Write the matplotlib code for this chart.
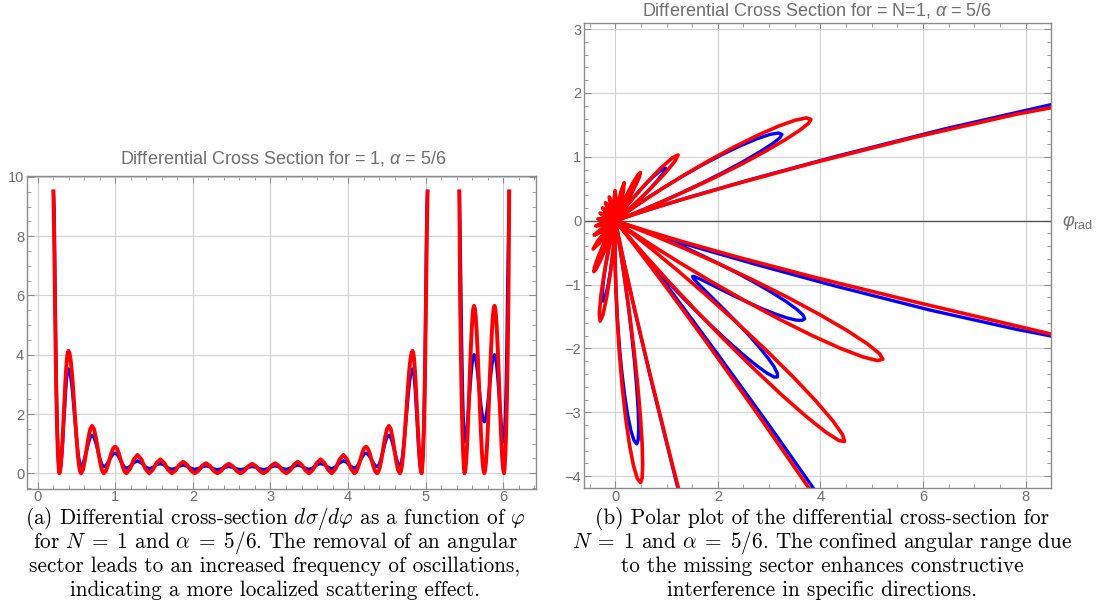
import numpy as np
import matplotlib
matplotlib.use("Agg")
import matplotlib.pyplot as plt
from matplotlib.ticker import MultipleLocator

plt.rcParams['font.family'] = ['Liberation Sans', 'DejaVu Sans']
plt.rcParams['mathtext.fontset'] = 'custom'
plt.rcParams['mathtext.rm'] = 'Liberation Sans'
plt.rcParams['mathtext.it'] = 'Liberation Sans:italic'
plt.rcParams['mathtext.bf'] = 'Liberation Sans:bold'

# angle values (rad); first branch 0.2 .. 5.03
phi_a = [0.200, 0.210, 0.220, 0.230, 0.240, 0.250, 0.260, 0.270,
         0.277, 0.287, 0.2965, 0.306, 0.316, 0.326, 0.3355, 0.345, 0.355, 0.365, 0.3745, 0.384,
         0.394, 0.4076, 0.4212, 0.4348, 0.4483, 0.4619, 0.4755, 0.4891, 0.5027, 0.5163, 0.5298, 0.5434,
         0.557, 0.581, 0.604, 0.628, 0.652, 0.675, 0.699, 0.724, 0.749, 0.775, 0.800, 0.825,
         0.850, 0.874, 0.898, 0.922, 0.947, 0.971, 0.995, 1.020, 1.044, 1.069, 1.094, 1.118,
         1.143, 1.190, 1.238, 1.285, 1.335, 1.385,
         1.435, 1.483, 1.532, 1.580, 1.629, 1.679,
         1.728, 1.776, 1.825, 1.873, 1.923, 1.972,
         2.022, 2.071, 2.119, 2.168, 2.217, 2.266,
         2.315, 2.364, 2.413, 2.462, 2.512, 2.563,
         2.613,
         2.663, 2.714, 2.764, 2.813, 2.862, 2.911,
         2.960, 3.009, 3.058, 3.107, 3.155, 3.204,
         3.254, 3.303, 3.353, 3.401, 3.450, 3.498,
         3.547, 3.597, 3.646, 3.694, 3.743, 3.791,
         3.841, 3.891, 3.941, 3.988, 4.036, 4.083,
         4.108, 4.132, 4.157, 4.182, 4.206, 4.231, 4.255, 4.279, 4.303, 4.328, 4.352, 4.376,
         4.401, 4.426, 4.451, 4.477, 4.502, 4.527, 4.551, 4.574, 4.598, 4.622, 4.645, 4.669,
         4.6826, 4.6962, 4.7097, 4.7233, 4.7369, 4.7505, 4.7641, 4.7777, 4.7912, 4.8048, 4.8184,
         4.832, 4.8418, 4.8515, 4.8613, 4.871, 4.8808, 4.8905, 4.9003, 4.910, 4.9198, 4.9295, 4.9393,
         4.949,
         4.956, 4.966, 4.976, 4.986, 4.996, 5.006, 5.016, 5.026]

red_a = [9.57, 8.0, 6.0, 4.0, 2.4, 1.3, 0.6, 0.15,
         0, 0.070, 0.277, 0.605, 1.033, 1.531, 2.065, 2.599, 3.098, 3.525, 3.853, 4.060,
         4.13, 4.060, 3.853, 3.525, 3.098, 2.599, 2.065, 1.531, 1.033, 0.605, 0.277, 0.070,
         0, 0.11, 0.40, 0.80, 1.20, 1.49, 1.60, 1.49, 1.20, 0.80, 0.40, 0.11,
         0, 0.06, 0.225, 0.45, 0.675, 0.84, 0.90, 0.84, 0.675, 0.45, 0.225, 0.06,
         0, 0.16, 0.47, 0.62, 0.47, 0.16,
         0, 0.12, 0.35, 0.47, 0.35, 0.12,
         0, 0.10, 0.29, 0.39, 0.29, 0.10,
         0, 0.085, 0.255, 0.34, 0.255, 0.085,
         0, 0.08, 0.24, 0.32, 0.24, 0.08,
         0,
         0.08, 0.24, 0.32, 0.24, 0.08, 0,
         0.085, 0.255, 0.34, 0.255, 0.085, 0,
         0.10, 0.29, 0.39, 0.29, 0.10, 0,
         0.12, 0.35, 0.47, 0.35, 0.12, 0,
         0.16, 0.47, 0.62, 0.47, 0.16, 0,
         0.06, 0.225, 0.45, 0.675, 0.84, 0.90, 0.84, 0.675, 0.45, 0.225, 0.06, 0,
         0.11, 0.40, 0.80, 1.20, 1.49, 1.60, 1.49, 1.20, 0.80, 0.40, 0.11, 0,
         0.070, 0.277, 0.605, 1.033, 1.531, 2.065, 2.599, 3.098, 3.525, 3.853, 4.060,
         4.13, 4.060, 3.853, 3.525, 3.098, 2.599, 2.065, 1.531, 1.033, 0.605, 0.277, 0.070,
         0,
         0.15, 0.6, 1.3, 2.4, 4.0, 6.0, 8.0, 9.57]

blue_a = [9.57, 8.9, 6.6, 4.4, 2.7, 1.5, 0.7, 0.2,
          0.03, 0.089, 0.264, 0.541, 0.903, 1.323, 1.775, 2.227, 2.648, 3.009, 3.286, 3.461,
          3.52, 3.464, 3.301, 3.041, 2.703, 2.308, 1.885, 1.462, 1.068, 0.729, 0.469, 0.306,
          0.25, 0.32, 0.51, 0.77, 1.02, 1.21, 1.28, 1.21, 1.02, 0.75, 0.49, 0.29,
          0.22, 0.251, 0.335, 0.45, 0.565, 0.649, 0.68, 0.646, 0.553, 0.425, 0.298, 0.204,
          0.17, 0.23, 0.36, 0.42, 0.35, 0.22,
          0.15, 0.20, 0.29, 0.33, 0.28, 0.18,
          0.13, 0.17, 0.24, 0.28, 0.24, 0.17,
          0.13, 0.16, 0.22, 0.25, 0.22, 0.15,
          0.12, 0.15, 0.20, 0.23, 0.20, 0.15,
          0.12,
          0.15, 0.20, 0.23, 0.20, 0.15, 0.12,
          0.15, 0.22, 0.25, 0.22, 0.16, 0.13,
          0.17, 0.24, 0.28, 0.24, 0.17, 0.13,
          0.18, 0.28, 0.33, 0.29, 0.20, 0.15,
          0.22, 0.35, 0.42, 0.36, 0.23, 0.17,
          0.204, 0.298, 0.425, 0.553, 0.646, 0.68, 0.649, 0.565, 0.45, 0.335, 0.251, 0.22,
          0.29, 0.49, 0.75, 1.02, 1.21, 1.28, 1.21, 1.02, 0.77, 0.51, 0.32, 0.25,
          0.306, 0.469, 0.729, 1.068, 1.462, 1.885, 2.308, 2.703, 3.041, 3.301, 3.464,
          3.52, 3.461, 3.286, 3.009, 2.648, 2.227, 1.775, 1.323, 0.903, 0.541, 0.264, 0.089,
          0.03,
          0.2, 0.7, 1.5, 2.7, 4.4, 6.6, 8.9, 9.57]

# second branch 5.43 .. 6.08
phi_b = [5.435, 5.445, 5.455, 5.465, 5.475, 5.485, 5.495,
         5.502, 5.5123, 5.5225, 5.5328, 5.543, 5.5533, 5.5635, 5.5738, 5.584, 5.5943, 5.6045, 5.6148,
         5.625, 5.636, 5.647, 5.658, 5.669, 5.680, 5.691, 5.702, 5.713, 5.724, 5.735, 5.746,
         5.757, 5.768, 5.779, 5.790, 5.801, 5.812, 5.823, 5.834, 5.845, 5.856, 5.867, 5.878,
         5.889, 5.8993, 5.9095, 5.9198, 5.930, 5.9403, 5.9505, 5.9608, 5.971, 5.9813, 5.9915, 6.0018,
         6.012, 6.019, 6.029, 6.039, 6.049, 6.059, 6.069, 6.079]

red_b = [9.57, 6.0, 4.0, 2.5, 1.4, 0.65, 0.15,
         0, 0.096, 0.378, 0.827, 1.413, 2.094, 2.825, 3.556, 4.238, 4.823, 5.272, 5.554,
         5.65, 5.554, 5.272, 4.823, 4.238, 3.556, 2.825, 2.094, 1.413, 0.827, 0.378, 0.096,
         0, 0.096, 0.378, 0.827, 1.413, 2.094, 2.825, 3.556, 4.238, 4.823, 5.272, 5.554,
         5.65, 5.554, 5.272, 4.823, 4.238, 3.556, 2.825, 2.094, 1.413, 0.827, 0.378, 0.096,
         0, 0.15, 0.65, 1.4, 2.5, 4.0, 6.0, 9.57]

blue_b = [9.57, 8.0, 6.3, 4.4, 2.9, 1.9, 1.3,
          1.07, 1.120, 1.266, 1.499, 1.803, 2.156, 2.535, 2.914, 3.268, 3.571, 3.804, 3.950,
          4.00, 3.961, 3.849, 3.669, 3.435, 3.162, 2.870, 2.578, 2.305, 2.071, 1.891, 1.779,
          1.74, 1.779, 1.891, 2.071, 2.305, 2.578, 2.870, 3.162, 3.435, 3.669, 3.849, 3.961,
          4.00, 3.950, 3.804, 3.571, 3.268, 2.914, 2.535, 2.156, 1.803, 1.499, 1.266, 1.120,
          1.07, 1.3, 1.9, 2.9, 4.4, 6.3, 8.0, 9.57]

title_left = r'Differential Cross Section for = 1, $\alpha$ = 5/6'
title_right = r'Differential Cross Section for = N=1, $\alpha$ = 5/6'

caption_left = [r'(a) Differential cross-section $d\sigma/d\varphi$ as a function of $\varphi$',
                r'for $N\;=\;1$ and $\alpha\;=\;5/6$. The removal of an angular',
                r'sector leads to an increased frequency of oscillations,',
                r'indicating a more localized scattering effect.']
caption_right = [r'(b) Polar plot of the differential cross-section for',
                 r'$N\;=\;1$ and $\alpha\;=\;5/6$. The confined angular range due',
                 r'to the missing sector enhances constructive',
                 r'interference in specific directions.']

W, H = 1099, 614
frame_c = '#8c8c8c'
grid_c = '#d2d2d2'
label_c = '#6e6e6e'
RED = '#ff0000'
BLUE = '#0000ff'


def style(ax):
    for s in ax.spines.values():
        s.set_color(frame_c)
        s.set_linewidth(1.0)
    ax.tick_params(which='both', direction='in', top=True, right=True,
                   color=frame_c, labelcolor=label_c, labelsize=10.5)
    ax.tick_params(which='major', length=5, width=0.8, pad=2)
    ax.tick_params(axis='x', which='major', pad=1)
    ax.tick_params(which='minor', length=3, width=0.6)
    ax.grid(True, which='major', color=grid_c, lw=0.8)
    ax.set_axisbelow(True)


fig = plt.figure(figsize=(W / 100, H / 100), dpi=100)

# left: cartesian
ax1 = fig.add_axes([27 / W, 125 / H, 508.7 / W, 313 / H])
style(ax1)
for ph, b, r in [(phi_a, blue_a, red_a), (phi_b, blue_b, red_b)]:
    ax1.plot(ph, b, color=BLUE, lw=2.4, solid_capstyle='butt')
    ax1.plot(ph, r, color=RED, lw=2.8, solid_capstyle='butt')
ax1.set_xlim(-0.14, 6.42)
ax1.set_ylim(-0.53, 10.03)
ax1.xaxis.set_major_locator(MultipleLocator(1))
ax1.xaxis.set_minor_locator(MultipleLocator(0.2))
ax1.yaxis.set_major_locator(MultipleLocator(2))
ax1.yaxis.set_minor_locator(MultipleLocator(0.5))

# right: polar curve drawn in cartesian frame
ax2 = fig.add_axes([584 / W, 125.7 / H, 466.7 / W, 465.6 / H])
style(ax2)
ax2.axhline(0, color='#555555', lw=1.0, zorder=1.5)
for ph, b, r in [(phi_a, blue_a, red_a), (phi_b, blue_b, red_b)]:
    ph = np.array(ph)
    b = np.array(b)
    r = np.array(r)
    ax2.plot(b * np.cos(ph), b * np.sin(ph), color=BLUE, lw=2.4)
    ax2.plot(r * np.cos(ph), r * np.sin(ph), color=RED, lw=2.6)
ax2.set_xlim(-0.61, 8.49)
ax2.set_ylim(-4.19, 3.10)
ax2.xaxis.set_major_locator(MultipleLocator(2))
ax2.xaxis.set_minor_locator(MultipleLocator(0.5))
ax2.yaxis.set_major_locator(MultipleLocator(1))
ax2.yaxis.set_minor_locator(MultipleLocator(0.2))

fig.text(1062 / W, 1 - 223 / H, r'$\varphi_{\mathrm{rad}}$', color=label_c,
         fontsize=13, ha='left', va='center')

fig.text(283 / W, 1 - 159 / H, title_left, color=label_c, fontsize=13,
         ha='center', va='center')
fig.text(817.5 / W, 1 - 10 / H, title_right, color=label_c, fontsize=13,
         ha='center', va='center')

line_y = [518, 543, 566.5, 590]
for txt, y in zip(caption_left, line_y):
    fig.text(275 / W, 1 - y / H, txt, fontfamily='cmr10', math_fontfamily='cm',
             fontsize=15.3, ha='center', va='center')
for txt, y in zip(caption_right, line_y):
    fig.text(822 / W, 1 - y / H, txt, fontfamily='cmr10', math_fontfamily='cm',
             fontsize=15.3, ha='center', va='center')

fig.savefig('out.png', dpi=100)
